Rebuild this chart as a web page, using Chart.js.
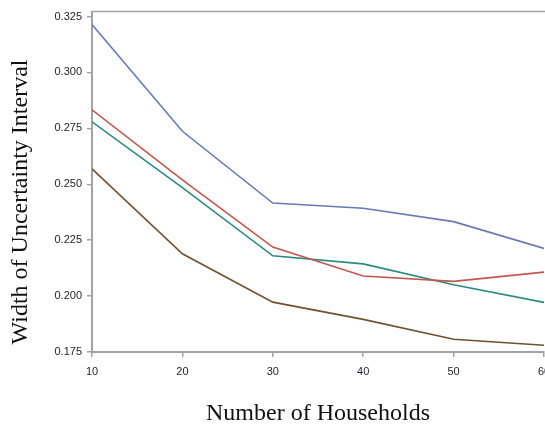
<!DOCTYPE html>
<html>
<head>
<meta charset="utf-8">
<script src="https://cdn.jsdelivr.net/npm/chart.js@4"></script>
<style>
  html, body { margin: 0; padding: 0; background: #fff; overflow: hidden; }
  #wrap { width: 560px; height: 428px; }
</style>
</head>
<body>
<div id="wrap"><canvas id="chart" width="560" height="428"></canvas></div>
<script>
const households = [10, 20, 30, 40, 50, 60];
const blueSeries  = [0.3214, 0.2737, 0.2416, 0.2393, 0.2333, 0.2213];
const redSeries   = [0.2833, 0.2520, 0.2219, 0.2090, 0.2066, 0.2107];
const tealSeries  = [0.2779, 0.2485, 0.2180, 0.2144, 0.2051, 0.1972];
const brownSeries = [0.2569, 0.2189, 0.1973, 0.1896, 0.1807, 0.1780];
const yTicks = [0.175, 0.200, 0.225, 0.250, 0.275, 0.300, 0.325];

const tickFont = { family: "'Liberation Sans', Arial, sans-serif", size: 11 };
const axisGray = "#a3a3a3";

function series(vals, color) {
    return {
        data: vals.map((v, i) => ({ x: households[i], y: v })),
        borderColor: color,
        borderWidth: 1.6,
        pointRadius: 0,
        tension: 0,
        fill: false
    };
}

// top frame line and rotated y title
const framePlugin = {
    id: "frame",
    afterDraw(chart) {
        const { ctx, chartArea } = chart;
        ctx.save();
        ctx.strokeStyle = axisGray;
        ctx.lineWidth = 1.5;
        ctx.beginPath();
        ctx.moveTo(chartArea.left, chartArea.top);
        ctx.lineTo(chart.width, chartArea.top);
        ctx.stroke();

        ctx.translate(21, 202);
        ctx.rotate(-Math.PI / 2);
        ctx.fillStyle = "#111";
        ctx.font = "24px 'Liberation Serif', 'Times New Roman', serif";
        ctx.textAlign = "center";
        ctx.textBaseline = "middle";
        ctx.fillText("Width of Uncertainty Interval", 0, 0);
        ctx.restore();
    }
};

new Chart(document.getElementById("chart"), {
    type: "line",
    data: {
        datasets: [
            series(blueSeries, "#6a79b4"),
            series(redSeries, "#c2574f"),
            series(tealSeries, "#2b8a7c"),
            series(brownSeries, "#6e5232")
        ]
    },
    options: {
        responsive: false,
        animation: false,
        layout: { padding: { top: 11, right: 16, bottom: 0, left: 0 } },
        plugins: { legend: { display: false }, tooltip: { enabled: false } },
        scales: {
            x: {
                type: "linear",
                min: 10,
                max: 60,
                afterBuildTicks: s => { s.ticks = households.map(v => ({ value: v })); },
                afterFit: s => { s.height = 76; },
                border: { color: axisGray, width: 2 },
                grid: { drawOnChartArea: false, color: axisGray, tickLength: 5, lineWidth: 1.5 },
                ticks: { color: "#1e1e2a", font: tickFont, padding: 8 },
                title: {
                    display: true,
                    text: "Number of Households",
                    color: "#111",
                    font: { family: "'Liberation Serif', 'Times New Roman', serif", size: 24 },
                    padding: { top: 19, bottom: 0 }
                }
            },
            y: {
                min: 0.175,
                max: 0.3272,
                afterBuildTicks: s => { s.ticks = yTicks.map(v => ({ value: v })); },
                afterFit: s => { s.width = 92; },
                border: { color: axisGray, width: 2 },
                grid: { drawOnChartArea: false, color: axisGray, tickLength: 5, lineWidth: 1.5 },
                ticks: {
                    color: "#1e1e2a",
                    font: tickFont,
                    padding: 5,
                    callback: v => v.toFixed(3)
                }
            }
        }
    },
    plugins: [framePlugin]
});
</script>
</body>
</html>
